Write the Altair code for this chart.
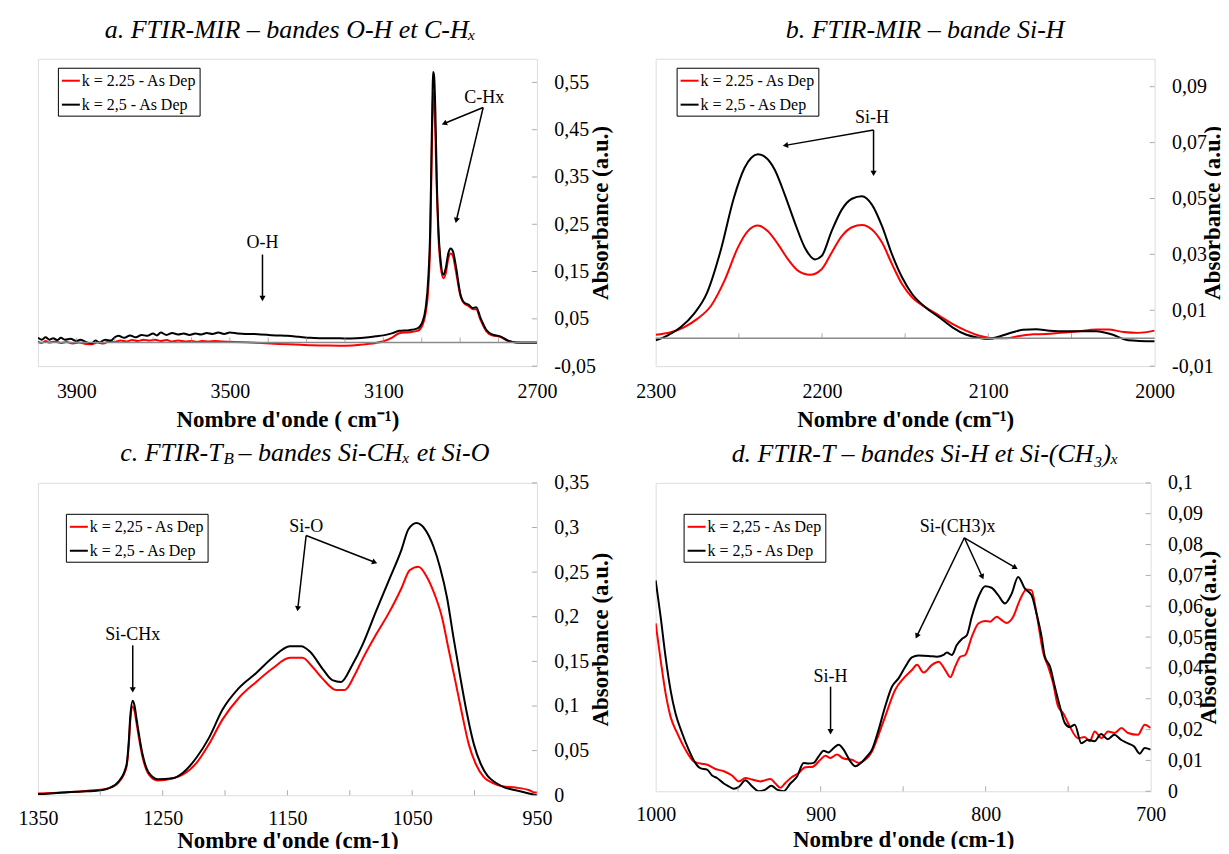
import math
import altair as alt
import pandas as pd

FONT = "Liberation Serif"
RED = "#ff0000"
BLACK = "#000000"
GRAY = "#8a8a8a"

# ---------------- Panel a : FTIR-MIR, O-H and C-Hx ----------------
a_black_x = [4000, 3990, 3980, 3970, 3960, 3950, 3940, 3930, 3915, 3900, 3890, 3875, 3860, 3850, 3840,
             3825, 3810, 3800, 3790, 3775, 3760, 3745, 3730, 3715, 3700, 3690, 3680, 3665, 3650, 3635,
             3620, 3605, 3590, 3575, 3560, 3545, 3530, 3515, 3500, 3480, 3460, 3440, 3420, 3400, 3380,
             3350, 3320, 3290, 3260, 3230, 3200, 3170, 3145, 3120, 3100, 3076, 3059, 3033, 3011, 2998,
             2990, 2983, 2978, 2975, 2972, 2970.5, 2968, 2964.5, 2961, 2956.7, 2950.6, 2943.7, 2937.6,
             2930.7, 2924.6, 2918.5, 2911.6, 2899, 2889, 2878, 2868, 2858, 2847, 2832, 2817, 2796, 2775,
             2754, 2730, 2700]
a_black_y = [0.010, 0.006, 0.011, 0.006, 0.009, 0.005, 0.010, 0.006, 0.008, 0.003, 0.006, 0.001, -0.002,
             0.004, 0.000, 0.006, 0.004, 0.011, 0.014, 0.010, 0.015, 0.011, 0.016, 0.014, 0.019, 0.015,
             0.021, 0.016, 0.020, 0.017, 0.019, 0.016, 0.019, 0.017, 0.020, 0.018, 0.021, 0.018, 0.021,
             0.019, 0.018, 0.018, 0.017, 0.016, 0.015, 0.014, 0.012, 0.010, 0.009, 0.009, 0.0085, 0.009,
             0.0105, 0.013, 0.015, 0.0197, 0.0246, 0.026, 0.030, 0.044, 0.072, 0.136, 0.241, 0.382, 0.523,
             0.572, 0.565, 0.488, 0.347, 0.241, 0.171, 0.143, 0.157, 0.189, 0.199, 0.192, 0.164, 0.101,
             0.084, 0.080, 0.073, 0.0745, 0.052, 0.027, 0.017, 0.013, 0.004, 0.0, -0.0005, -0.0005]
a_red_x = [4000, 3990, 3980, 3970, 3955, 3940, 3925, 3910, 3893, 3875, 3860, 3845, 3830, 3815, 3800,
           3785, 3770, 3755, 3740, 3725, 3710, 3694, 3680, 3665, 3650, 3635, 3616, 3600, 3585, 3573,
           3555, 3540, 3520, 3500, 3460, 3417, 3373, 3330, 3287, 3243, 3200, 3160, 3145, 3120, 3102,
           3076, 3059, 3033, 3011, 2998, 2990, 2983, 2978, 2975, 2972, 2970.5, 2968, 2964.5, 2961,
           2956.7, 2950.6, 2943.7, 2937.6, 2930.7, 2924.6, 2918.5, 2911.6, 2899, 2889, 2878, 2868,
           2858, 2847, 2832, 2817, 2796, 2775, 2754, 2700]
a_red_y = [0.002, -0.001, 0.003, 0.000, 0.002, -0.001, 0.001, -0.002, 0.000, -0.003, -0.004, 0.000,
           -0.002, 0.002, 0.001, 0.004, 0.002, 0.005, 0.003, 0.006, 0.004, 0.006, 0.003, 0.005, 0.002,
           0.004, 0.002, 0.003, 0.001, 0.003, 0.002, 0.003, 0.002, 0.0015, 0.0005, -0.001, -0.003,
           -0.0045, -0.006, -0.0065, -0.0068, -0.005, -0.0035, -0.001, 0.002, 0.0106, 0.0197, 0.0218,
           0.0246, 0.037, 0.062, 0.115, 0.213, 0.347, 0.488, 0.528, 0.516, 0.438, 0.326, 0.227, 0.160,
           0.136, 0.146, 0.178, 0.188, 0.182, 0.153, 0.098, 0.082, 0.077, 0.071, 0.070, 0.048, 0.024,
           0.015, 0.012, 0.003, 0.0, 0.0]

# ---------------- Panel b : FTIR-MIR, Si-H ----------------
b_black_x = [2300, 2293, 2285, 2277, 2269, 2261, 2253, 2246.6, 2242.5, 2238.5, 2234.5, 2228.4, 2222.4,
             2216.3, 2210.3, 2204.2, 2200.2, 2194.2, 2188.1, 2182, 2176, 2170, 2163.9, 2157.9, 2151.8,
             2145.8, 2137.7, 2129.6, 2121.6, 2113.5, 2105.4, 2099.4, 2093.3, 2085.3, 2079.2, 2071.2,
             2063.1, 2053, 2047, 2035, 2025.5, 2016, 2000]
b_black_y = [-0.0008, 0.0009, 0.0039, 0.0087, 0.0164, 0.0312, 0.0502, 0.0609, 0.0646, 0.0658, 0.065,
             0.0603, 0.0514, 0.0413, 0.0324, 0.0282, 0.0294, 0.0383, 0.046, 0.0499, 0.0508, 0.0478,
             0.0401, 0.030, 0.0217, 0.0158, 0.011, 0.0075, 0.0039, 0.0013, 0.0001, -0.0002, 0.0006,
             0.0021, 0.003, 0.0032, 0.0027, 0.0025, 0.0025, 0.0025, 0.0013, -0.0007, -0.0011]
b_red_x = [2300, 2291, 2283, 2275, 2266.7, 2258.7, 2250.6, 2244.6, 2238.5, 2232.5, 2226.4, 2220.4,
           2214.3, 2207.3, 2200.2, 2194.2, 2188.1, 2182, 2176, 2170, 2163.9, 2157.9, 2151.8, 2145.8,
           2137.7, 2129.6, 2121.6, 2113.5, 2105.4, 2097.4, 2089.3, 2081.2, 2073.2, 2065.1, 2057, 2047,
           2035, 2028, 2018.6, 2010, 2000]
b_red_y = [0.0012, 0.0021, 0.0039, 0.0069, 0.0116, 0.0205, 0.0324, 0.0383, 0.0403, 0.0383, 0.0336,
           0.0282, 0.0241, 0.0227, 0.0247, 0.0306, 0.0365, 0.0397, 0.0405, 0.0389, 0.0342, 0.0265,
           0.0193, 0.0146, 0.011, 0.0081, 0.0051, 0.0027, 0.0009, 0.0, 0.0, 0.0008, 0.0014, 0.0015,
           0.0019, 0.0024, 0.0031, 0.0031, 0.0022, 0.0019, 0.0027]

# ---------------- Panel c : FTIR-TB, Si-CHx and Si-O ----------------
c_black_x = [1350, 1340, 1330, 1320, 1310, 1303, 1293, 1285, 1279, 1277, 1276, 1274, 1272.5, 1271, 1266,
             1261, 1254, 1242, 1234, 1223, 1213, 1202, 1189, 1175, 1162, 1148, 1139, 1132, 1122, 1114,
             1107, 1098, 1090, 1079, 1068, 1058.6, 1053, 1046.5, 1039.7, 1033, 1027.6, 1022, 1016.8,
             1011.4, 1006, 1000.5, 995, 989.7, 983, 975.7, 967, 959.5, 951.4, 950]
c_black_y = [0.001, 0.002, 0.003, 0.004, 0.0045, 0.005, 0.008, 0.016, 0.034, 0.064, 0.088, 0.106, 0.100,
             0.086, 0.045, 0.025, 0.018, 0.019, 0.025, 0.042, 0.064, 0.096, 0.120, 0.137, 0.154, 0.167,
             0.167, 0.161, 0.142, 0.129, 0.127, 0.146, 0.168, 0.206, 0.243, 0.275, 0.298, 0.305, 0.298,
             0.279, 0.255, 0.221, 0.176, 0.132, 0.091, 0.057, 0.035, 0.022, 0.014, 0.0086, 0.0056, 0.003,
             0.0004, 0.0]
c_red_x = [1350, 1330, 1310, 1293, 1285, 1279, 1277, 1276, 1274, 1272.5, 1271, 1266, 1261, 1254, 1242,
           1234, 1223, 1213, 1202, 1189, 1175, 1162, 1148, 1138, 1130, 1122, 1111, 1104, 1096, 1090, 1079,
           1068, 1058.6, 1052, 1045, 1038, 1032, 1026, 1021, 1015.4, 1010, 1004.6, 999, 992.4, 985.7,
           977.6, 967, 956, 951.4, 950]
c_red_y = [0.002, 0.003, 0.005, 0.008, 0.015, 0.032, 0.060, 0.083, 0.0995, 0.094, 0.081, 0.042, 0.023,
           0.0165, 0.019, 0.023, 0.036, 0.057, 0.085, 0.109, 0.127, 0.142, 0.154, 0.154, 0.144, 0.131,
           0.118, 0.118, 0.135, 0.152, 0.180, 0.206, 0.232, 0.252, 0.256, 0.244, 0.225, 0.199, 0.165,
           0.128, 0.091, 0.057, 0.035, 0.020, 0.014, 0.010, 0.0086, 0.0056, 0.003, 0.003]

# ---------------- Panel d : FTIR-T, Si-H and Si-(CH3)x ----------------
d_black_x = [1000, 997, 994, 991, 988, 984, 980, 976, 973, 968.8, 965.8, 962.8, 958.7, 955.7, 952.7,
             949.6, 945.6, 941.6, 937.5, 933.5, 929.9, 926.4, 922.4, 918.4, 914.3, 910.3, 907.3, 904.2,
             901.2, 898.2, 895.2, 892.1, 889.1, 886.1, 882, 879, 876, 872, 868.9, 864.9, 860.9, 856.8,
             852.8, 848.7, 844.7, 840.7, 834.6, 829.6, 825.5, 823.5, 820.5, 817.5, 814.4, 811.4, 808.4,
             804.4, 800.3, 796.4, 792.4, 788.3, 784.3, 780.3, 776.2, 772.2, 769.2, 766.1, 764.1, 761,
             758.1, 755, 752, 749, 746, 742, 738, 734, 730, 726, 722, 718, 714, 710, 706.6, 703.6, 700]
d_black_y = [0.0684, 0.0566, 0.0436, 0.0329, 0.0253, 0.0189, 0.0135, 0.0092, 0.0075, 0.0070, 0.0051,
             0.0043, 0.0025, 0.0016, 0.0008, 0.0014, 0.0036, 0.0016, 0.0, 0.0005, 0.0018, 0.0005, 0.0,
             0.0025, 0.0048, 0.0092, 0.0090, 0.0092, 0.0113, 0.0131, 0.0126, 0.0140, 0.0151, 0.0135,
             0.0097, 0.0081, 0.0090, 0.0113, 0.0135, 0.0199, 0.0275, 0.0339, 0.0366, 0.0404, 0.0434,
             0.0440, 0.0439, 0.0436, 0.0442, 0.0450, 0.0442, 0.0474, 0.0494, 0.0506, 0.0566, 0.0630,
             0.0665, 0.0660, 0.0636, 0.0609, 0.0640, 0.0695, 0.0657, 0.0636, 0.0577, 0.0501, 0.0436,
             0.0404, 0.0340, 0.0275, 0.0221, 0.0208, 0.0216, 0.0156, 0.0167, 0.0162, 0.0186, 0.0169,
             0.0183, 0.0167, 0.0156, 0.0145, 0.0122, 0.0140, 0.0135]
d_red_x = [1000, 997, 994, 991, 987, 982, 977, 973, 968.8, 963.8, 958.7, 953.7, 949.6, 945.6, 941.6,
           936.5, 930.4, 927.4, 924.4, 921.4, 917.4, 913.3, 909.3, 905.2, 900.2, 897.2, 894.1, 890.1,
           886.1, 881, 877, 873, 868.9, 864.9, 860.9, 854.8, 849.8, 844.7, 841.6, 837.6, 832.5, 828.5,
           824.5, 821.4, 818.5, 815.4, 812.4, 808.4, 804.4, 800.3, 797.3, 793.3, 790.2, 787.3, 783.3,
           779.3, 775.2, 772.2, 769.2, 765, 762.1, 759.1, 756.1, 753, 749, 744, 740, 736.9, 733.9,
           729.8, 725.8, 721.8, 717.7, 713.7, 707.7, 703.6, 700]
d_red_y = [0.0544, 0.0426, 0.0318, 0.0242, 0.0189, 0.0135, 0.0097, 0.0090, 0.0086, 0.0072, 0.0065,
           0.0051, 0.0032, 0.0043, 0.0038, 0.0032, 0.0040, 0.0025, 0.0011, 0.0027, 0.0046, 0.0059,
           0.0078, 0.0079, 0.0102, 0.0115, 0.0108, 0.0119, 0.0106, 0.0102, 0.0092, 0.0102, 0.0129,
           0.0183, 0.0242, 0.0329, 0.0366, 0.0393, 0.0410, 0.0385, 0.0410, 0.0420, 0.0393, 0.0370,
           0.0404, 0.0436, 0.0442, 0.0501, 0.0544, 0.0552, 0.0550, 0.0566, 0.0555, 0.0546, 0.0566,
           0.0620, 0.0654, 0.0652, 0.0577, 0.0447, 0.0404, 0.0350, 0.0275, 0.0253, 0.0210, 0.0172,
           0.0176, 0.0162, 0.0194, 0.0172, 0.0194, 0.0189, 0.0205, 0.0189, 0.0183, 0.0216, 0.0205]

# ---------------- Legend labels ----------------
ab_labels = ["k = 2.25 - As Dep", "k = 2,5 - As Dep"]
cd_labels = ["k = 2,25 - As Dep", "k = 2,5 - As Dep"]

# ---------------- Axis ticks ----------------
a_xticks = [3900, 3500, 3100, 2700]
a_yticks = [-0.05, 0.05, 0.15, 0.25, 0.35, 0.45, 0.55]
a_minor = [3900, 3800, 3700, 3600, 3500, 3400, 3300, 3200, 3100, 3000, 2900, 2800]
b_xticks = [2300, 2200, 2100, 2000]
b_yticks = [-0.01, 0.01, 0.03, 0.05, 0.07, 0.09]
b_minor = [2250, 2200, 2150, 2100, 2050]
c_xticks = [1350, 1250, 1150, 1050, 950]
c_yticks = [0, 0.05, 0.1, 0.15, 0.2, 0.25, 0.3, 0.35]
c_minor = [1300, 1250, 1200, 1150, 1100, 1050, 1000]
d_xticks = [1000, 900, 800, 700]
d_yticks = [0, 0.01, 0.02, 0.03, 0.04, 0.05, 0.06, 0.07, 0.08, 0.09, 0.1]
d_minor = [950, 900, 850, 800, 750]

# ---------------- Annotations (data coordinates) ----------------
a_notes = [("C-Hx", 2837, 0.518), ("O-H", 3415, 0.21)]
a_arrows = [(2840, 0.497, 2941.5, 0.463), (2840, 0.497, 2910, 0.258), (3415, 0.186, 3415, 0.093)]
b_notes = [("Si-H", 2170, 0.0789)]
b_arrows = [(2169, 0.0745, 2222, 0.069), (2169, 0.0745, 2169, 0.0590)]
c_notes = [("Si-CHx", 1274, 0.180), ("Si-O", 1135, 0.301)]
c_arrows = [(1274, 0.168, 1274, 0.118), (1135, 0.291, 1141.7, 0.209), (1135, 0.291, 1080, 0.261)]
d_notes = [("Si-H", 894, 0.0372), ("Si-(CH3)x", 817, 0.0857)]
d_arrows = [(894, 0.0339, 894, 0.0193), (812.9, 0.0822, 841.7, 0.0503),
            (812.9, 0.0822, 802, 0.0695), (812.9, 0.0822, 782, 0.0725)]


def lines_df(rx, ry, bx, by, labels):
    rows = [{"wn": x, "abs": y, "series": labels[0]} for x, y in zip(rx, ry)]
    rows += [{"wn": x, "abs": y, "series": labels[1]} for x, y in zip(bx, by)]
    return pd.DataFrame(rows)


def panel(cfg):
    W, H = cfg["W"], cfg["H"]
    xl, xr = cfg["xdom"]
    y0, y1 = cfg["ydom"]
    xs = alt.Scale(domain=[xr, xl], reverse=True, nice=False, zero=False)
    ys = alt.Scale(domain=[y0, y1], nice=False, zero=False)

    def topx(wn, v):
        return (xl - wn) / (xl - xr) * W, (y1 - v) / (y1 - y0) * H

    xaxis = alt.Axis(values=cfg["xticks"], format="d", grid=False, ticks=False, tickSize=0,
                     domain=False, labelFont=FONT, labelFontSize=20, labelColor="black",
                     labelBaseline="middle", labelPadding=cfg["xlabPad"], labelFlush=False,
                     labelOverlap=False,
                     title=cfg["xtitle"], titleFont=FONT, titleFontSize=23, titleFontWeight="bold",
                     titleColor="black", titleY=cfg["xtitleY"], titleBaseline="middle")
    yaxis = alt.Axis(orient="right", values=cfg["yticks"], grid=False, ticks=False, tickSize=0,
                     domain=False, labelFont=FONT, labelFontSize=20, labelColor="black",
                     labelAlign="left", labelPadding=17, labelFlush=False, labelOverlap=False,
                     labelSeparation=0, labelBound=False,
                     labelExpr="(datum.value < 0 ? '-' : '') + replace(format(abs(datum.value), '.2~f'), '.', ',')",
                     title="Absorbance (a.u.)", titleFont=FONT, titleFontSize=23,
                     titleFontWeight="bold", titleColor="black", titleAngle=270, titleX=cfg["ytitleX"],
                     titleY=H / 2, titleAlign="center", titleBaseline="middle")

    def X(f):
        return alt.X(f, scale=xs, axis=xaxis, title=cfg["xtitle"])

    def Y(f):
        return alt.Y(f, scale=ys, axis=yaxis, title="Absorbance (a.u.)")

    df = lines_df(*cfg["series"], cfg["labels"])
    leg = alt.Legend(orient="none", legendX=cfg["legXY"][0], legendY=cfg["legXY"][1], title=None,
                     symbolType="stroke", symbolSize=324, symbolStrokeWidth=2, labelFont=FONT,
                     labelFontSize=16, labelColor="black", strokeColor="black", fillColor="white",
                     padding=3, rowPadding=6, labelOffset=1, labelLimit=0)
    lines = alt.Chart(df).mark_line(strokeWidth=2, interpolate="monotone", clip=True).encode(
        x=X("wn:Q"),
        y=Y("abs:Q"),
        color=alt.Color("series:N", scale=alt.Scale(domain=cfg["labels"], range=[RED, BLACK]),
                        legend=leg, sort=cfg["labels"]),
        order=alt.Order("wn:Q"),
    )

    layers = [lines]
    if cfg["zero"]:
        layers.append(alt.Chart(pd.DataFrame({"v": [0]})).mark_rule(color=GRAY, strokeWidth=1.5)
                      .encode(y=Y("v:Q")))
    minor = pd.DataFrame({"wn": cfg["minor"], "v": [0] * len(cfg["minor"])})
    layers.append(alt.Chart(minor).mark_tick(orient="vertical", size=5, thickness=1, color=GRAY,
                                             yOffset=-2.5)
                  .encode(x=X("wn:Q"), y=Y("v:Q")))
    yt = pd.DataFrame({"wn": [xr] * len(cfg["yticks"]), "v": cfg["yticks"]})
    layers.append(alt.Chart(yt).mark_tick(orient="horizontal", size=5, thickness=1, color=GRAY,
                                          xOffset=-2.5)
                  .encode(x=X("wn:Q"), y=Y("v:Q")))

    arr = pd.DataFrame([{"x": a, "y": b, "x2": c, "y2": d} for a, b, c, d in cfg["arrows"]])
    layers.append(alt.Chart(arr).mark_rule(color="black", strokeWidth=1.5).encode(
        x=X("x:Q"), y=Y("y:Q"), x2="x2:Q", y2="y2:Q"))
    heads = []
    for a, b, c, d in cfg["arrows"]:
        p0 = topx(a, b)
        p1 = topx(c, d)
        ang = math.degrees(math.atan2(p1[0] - p0[0], -(p1[1] - p0[1]))) % 360
        heads.append({"x": c, "y": d, "ang": ang})
    layers.append(alt.Chart(pd.DataFrame(heads)).mark_point(shape="triangle-up", filled=True,
                                                            size=38, color="black", opacity=1)
                  .encode(x=X("x:Q"), y=Y("y:Q"), angle=alt.Angle("ang:Q", scale=None)))
    notes = pd.DataFrame([{"t": t, "x": x, "y": y} for t, x, y in cfg["notes"]])
    layers.append(alt.Chart(notes).mark_text(font=FONT, fontSize=18, color="black",
                                             baseline="middle", align="center")
                  .encode(x=X("x:Q"), y=Y("y:Q"), text="t:N"))

    for piece in cfg["title"]:
        txt, px, py, size, align = piece
        layers.append(alt.Chart(pd.DataFrame({"t": [txt]})).mark_text(
            font=FONT, fontSize=size, fontStyle="italic", color="black", align=align,
            baseline="middle", x=px, y=py).encode(text="t:N"))

    return alt.layer(*layers).properties(width=W, height=H)


pa = panel(dict(W=500, H=308, xdom=(4000, 2700), ydom=(-0.05, 0.6), xticks=a_xticks, yticks=a_yticks,
                minor=a_minor, zero=True, labels=ab_labels,
                series=(a_red_x, a_red_y, a_black_x, a_black_y), legXY=(20, 9),
                xtitle="Nombre d'onde ( cm\u207b\u00b9)", xtitleY=53, xlabPad=25, ytitleX=64,
                notes=a_notes, arrows=a_arrows,
                title=[("a. FTIR-MIR \u2013 bandes O-H et C-H\u2093", 253, -29, 26, "center")]))
pb = panel(dict(W=500, H=308, xdom=(2300, 2000), ydom=(-0.01, 0.1), xticks=b_xticks, yticks=b_yticks,
                minor=b_minor, zero=True, labels=ab_labels,
                series=(b_red_x, b_red_y, b_black_x, b_black_y), legXY=(21, 9),
                xtitle="Nombre d'onde (cm\u207b\u00b9)", xtitleY=53, xlabPad=25, ytitleX=58,
                notes=b_notes, arrows=b_arrows,
                title=[("b. FTIR-MIR \u2013 bande Si-H", 270, -29, 26, "center")]))
pc = panel(dict(W=500, H=313, xdom=(1350, 950), ydom=(0, 0.35), xticks=c_xticks, yticks=c_yticks,
                minor=c_minor, zero=False, labels=cd_labels,
                series=(c_red_x, c_red_y, c_black_x, c_black_y), legXY=(28, 31),
                xtitle="Nombre d'onde (cm-1)", xtitleY=45, xlabPad=23, ytitleX=64,
                notes=c_notes, arrows=c_arrows,
                title=[("c. FTIR-T", 185, -30, 26, "right"), ("B", 186, -24, 17, "left"),
                       ("\u2013 bandes Si-CH\u2093 et Si-O", 201, -30, 26, "left")]))
pd_ = panel(dict(W=496, H=309, xdom=(1000, 700), ydom=(0, 0.1), xticks=d_xticks, yticks=d_yticks,
                 minor=d_minor, zero=False, labels=cd_labels,
                 series=(d_red_x, d_red_y, d_black_x, d_black_y), legXY=(28, 31),
                 xtitle="Nombre d'onde (cm-1)", xtitleY=48, xlabPad=23, ytitleX=58,
                 notes=d_notes, arrows=d_arrows,
                 title=[("d. FTIR-T \u2013 bandes Si-H et Si-(CH\u2083)\u2093", 270, -29, 26, "center")]))

chart = alt.concat(pa, pb, pc, pd_, columns=2, spacing={"row": 117, "column": 119},
                   bounds="flush").resolve_scale(
    x="independent", y="independent", color="independent"
).properties(padding={"left": 9, "top": 7, "right": -4.5, "bottom": -5.5}).configure_view(
    stroke=GRAY, strokeWidth=1.5
).configure(background="white")

chart.save("out.html", embed_options={"renderer": "svg", "actions": False})
